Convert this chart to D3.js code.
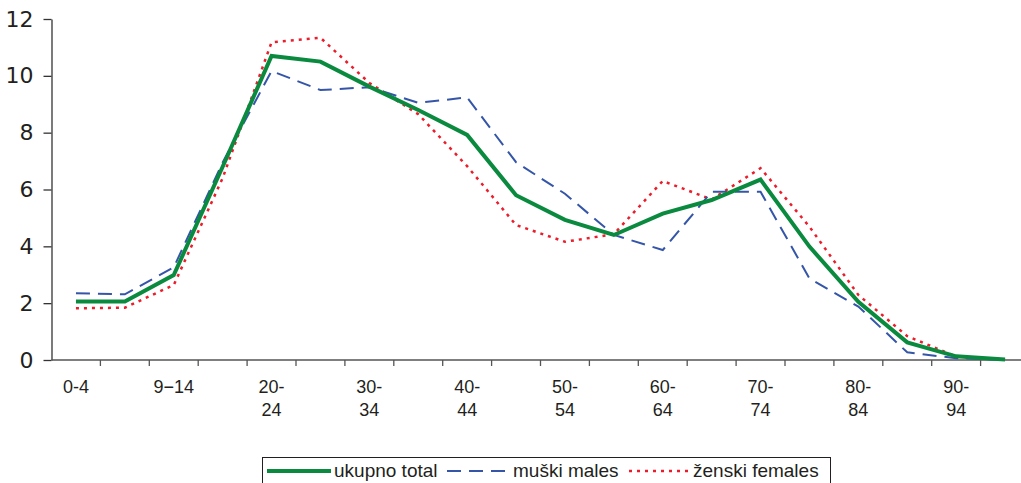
<!DOCTYPE html>
<html>
<head>
  <meta charset="UTF-8">
  <style>
    body { margin: 0; padding: 0; background: #fff; }
    svg { display: block; }
    .ylab text { font-family: "DejaVu Sans", sans-serif; font-size: 22px; fill: #231f20; }
    .xlab { font-family: "Liberation Sans", Arial, sans-serif; font-size: 18px; fill: #231f20; }
    .legend text { font-family: "Liberation Sans", Arial, sans-serif; font-size: 19px; fill: #231f20; }
  </style>
</head>
<body>
  <svg width="1021" height="483"></svg>
  <script src="https://d3js.org/d3.v7.min.js"></script>
  <script>
    const ageGroups = ["0-4", "5-9", "9\u221214", "15-19", "20-24", "25-29", "30-34", "35-39", "40-44", "45-49",
                       "50-54", "55-59", "60-64", "65-69", "70-74", "75-79", "80-84", "85-89", "90-94", "95+"];
    const total   = [2.06, 2.06, 2.99, 6.8, 10.7, 10.5, 9.62, 8.8, 7.92, 5.8, 4.93, 4.4, 5.15, 5.63, 6.35, 3.99, 2.05, 0.62, 0.13, 0.02];
    const males   = [2.35, 2.31, 3.26, 6.95, 10.17, 9.5, 9.6, 9.05, 9.24, 6.96, 5.85, 4.4, 3.87, 5.92, 5.92, 2.87, 1.88, 0.27, 0.06, 0.01];
    const females = [1.82, 1.84, 2.64, 6.4, 11.18, 11.34, 9.75, 8.65, 6.82, 4.75, 4.16, 4.43, 6.3, 5.65, 6.75, 4.69, 2.29, 0.84, 0.12, 0.02];
    const yTicks  = [0, 2, 4, 6, 8, 10, 12];

    const series = [
      { name: "ukupno total",   values: total,   color: "#0a8a3e", width: 4,   dash: null },
      { name: "mu\u0161ki males", values: males,   color: "#3455a8", width: 2,   dash: "14,8" },
      { name: "\u017eenski females", values: females, color: "#ec1c2a", width: 2.5, dash: "3,5" }
    ];

    const svg = d3.select("svg");
    const mLeft = 51.5, mTop = 19, mBottom = 360;

    const x = d3.scaleBand().domain(ageGroups).range([mLeft, mLeft + 20 * 48.9]);
    const y = d3.scaleLinear().domain([0, 12]).range([mBottom, mTop]);

    // y axis
    const yAxis = svg.append("g")
        .attr("class", "ylab")
        .attr("transform", `translate(${mLeft},0)`)
        .call(d3.axisLeft(y).tickValues(yTicks).tickSize(8).tickPadding(10).tickSizeOuter(0));
    yAxis.select(".domain").attr("stroke", "#333").attr("stroke-width", 1.3);
    yAxis.selectAll(".tick line").attr("stroke", "#333").attr("stroke-width", 1.3);
    yAxis.attr("font-family", null).attr("font-size", null);

    // x axis line + boundary ticks
    svg.append("line")
        .attr("x1", mLeft).attr("x2", 1021)
        .attr("y1", mBottom).attr("y2", mBottom)
        .attr("stroke", "#555").attr("stroke-width", 1.3);

    svg.append("g").selectAll("line")
      .data(ageGroups.slice(1))
      .join("line")
        .attr("x1", d => x(d)).attr("x2", d => x(d))
        .attr("y1", mBottom).attr("y2", mBottom + 6)
        .attr("stroke", "#555").attr("stroke-width", 1.3);

    // x labels, every second group, wrapped after the hyphen
    const xl = svg.append("g").selectAll("text")
      .data(ageGroups.filter((d, i) => i % 2 === 0))
      .join("text")
        .attr("class", "xlab")
        .attr("text-anchor", "middle")
        .attr("x", d => x(d) + x.bandwidth() / 2)
        .attr("y", 393);
    xl.each(function(d) {
      const parts = d.length >= 5 && d.includes("-") ? [d.slice(0, d.indexOf("-") + 1), d.slice(d.indexOf("-") + 1)] : [d];
      d3.select(this).selectAll("tspan")
        .data(parts)
        .join("tspan")
          .attr("x", x(d) + x.bandwidth() / 2)
          .attr("dy", (p, i) => i === 0 ? 0 : 22.6)
          .text(p => p);
    });

    // lines
    const line = d3.line()
        .x((v, i) => x(ageGroups[i]) + x.bandwidth() / 2)
        .y(v => y(v));

    svg.append("g").selectAll("path")
      .data(series.slice().reverse())
      .join("path")
        .attr("fill", "none")
        .attr("stroke", d => d.color)
        .attr("stroke-width", d => d.width)
        .attr("stroke-dasharray", d => d.dash)
        .attr("stroke-linejoin", "miter")
        .attr("d", d => line(d.values));

    // legend
    const legend = svg.append("g").attr("class", "legend");
    legend.append("rect")
        .attr("x", 262.5).attr("y", 457.5)
        .attr("width", 568).attr("height", 40)
        .attr("fill", "#fff").attr("stroke", "#231f20").attr("stroke-width", 1);

    const items = [
      { s: series[0], x1: 267, x2: 331, tx: 334 },
      { s: series[1], x1: 447, x2: 505, tx: 513 },
      { s: series[2], x1: 629, x2: 691, tx: 693 }
    ];
    items.forEach(it => {
      legend.append("line")
          .attr("x1", it.x1).attr("x2", it.x2)
          .attr("y1", 471).attr("y2", 471)
          .attr("stroke", it.s.color)
          .attr("stroke-width", it.s.width)
          .attr("stroke-dasharray", it.s.dash);
      legend.append("text")
          .attr("x", it.tx).attr("y", 477)
          .text(it.s.name);
    });
  </script>
</body>
</html>
